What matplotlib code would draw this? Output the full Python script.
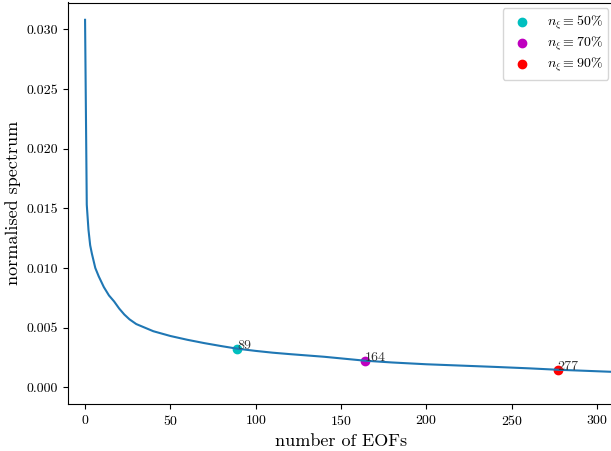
import matplotlib
matplotlib.use("Agg")
import matplotlib.pyplot as plt

plt.rcParams['font.family'] = 'serif'
plt.rcParams['font.serif'] = ['cmr10', 'DejaVu Serif']
plt.rcParams['mathtext.fontset'] = 'cm'
plt.rcParams['axes.formatter.use_mathtext'] = True
plt.rcParams['axes.unicode_minus'] = False

# spectrum
n_eofs = [0, 1, 2, 3, 4, 6, 8, 11, 14, 17, 20, 23, 26, 30, 35, 40, 45, 50,
          60, 70, 80, 89, 100, 110, 120, 140, 164, 180, 200, 220, 240, 260,
          277, 290, 310, 330]
spectrum = [0.0308, 0.0153, 0.0132, 0.0119, 0.0112, 0.0100, 0.0093, 0.0084,
            0.0077, 0.0072, 0.0066, 0.0061, 0.0057, 0.0053, 0.0050, 0.0047,
            0.0045, 0.0043, 0.00398, 0.0037, 0.00345, 0.00324, 0.00305, 0.0029,
            0.00278, 0.00256, 0.00223, 0.00208, 0.00193, 0.00182, 0.00171,
            0.00159, 0.00147, 0.0014, 0.00129, 0.0012]

marker_n = [89, 164, 277]
marker_val = [0.00322, 0.0022, 0.00145]
marker_labels = [r'$n_\xi \equiv 50\%$', r'$n_\xi \equiv 70\%$', r'$n_\xi \equiv 90\%$']
marker_colors = ['c', 'm', 'r']

fig = plt.figure(figsize=(6.11, 4.51), dpi=100)
ax = fig.add_axes([68/611, 1-404/451, (614-68)/611, (404-2.5)/451])

ax.plot(n_eofs, spectrum, color='C0')
for n, v, lab, col in zip(marker_n, marker_val, marker_labels, marker_colors):
    ax.scatter([n], [v], color=col, label=lab)
    ax.annotate(str(n), (n, v), fontsize=10, color='#333333')

ax.set_xlim(-10, 310)
ax.set_ylim(-0.0014, 0.03225)
ax.set_xticks([0, 50, 100, 150, 200, 250, 300])
ax.set_yticks([0.0, 0.005, 0.010, 0.015, 0.020, 0.025, 0.030])
ax.set_yticklabels(['0.000', '0.005', '0.010', '0.015', '0.020', '0.025', '0.030'])
ax.tick_params(labelsize=10)
ax.set_xlabel('number of EOFs', fontsize=13)
ax.set_ylabel('normalised spectrum', fontsize=13)
ax.legend(loc='upper right', fontsize=10, labelspacing=0.2, borderaxespad=0.4)

fig.savefig('out.png', dpi=100)
